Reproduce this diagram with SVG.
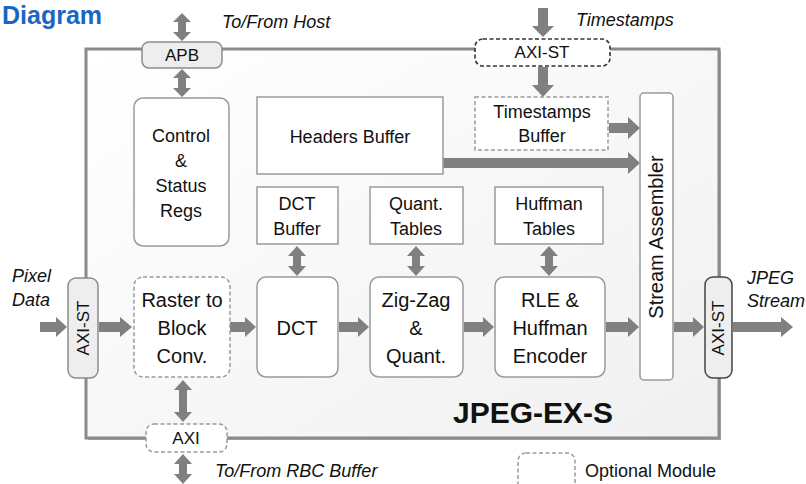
<svg xmlns="http://www.w3.org/2000/svg" width="806" height="484" viewBox="0 0 806 484">
<defs>
<linearGradient id="bg" x1="0" y1="0" x2="1" y2="1">
<stop offset="0" stop-color="#ffffff"/>
<stop offset="1" stop-color="#f0f0f0"/>
</linearGradient>
<style>
text{font-family:"Liberation Sans",Arial,sans-serif;fill:#111;text-anchor:middle}
.t17{font-size:17px}
.t18{font-size:18px}
.t20{font-size:20px}
.it{font-style:italic;text-anchor:start;font-size:18px}
.box{fill:#fff;stroke:#9a9a9a;stroke-width:1.5}
.opt{fill:#fff;stroke:#9a9a9a;stroke-width:1.5;stroke-dasharray:4 2.5}
.port{fill:#eeeeee;stroke:#8c8c8c;stroke-width:1.5}
.arr{fill:#808080}
</style>
</defs>
<rect width="806" height="484" fill="#fff"/>
<text x="2" y="24" style="font-size:25px;font-weight:bold;fill:#1a66c2;text-anchor:start">Diagram</text>

<g id="container">
<rect x="88" y="51" width="633" height="389" fill="#b0b0b0"/>
<rect x="86" y="49" width="633" height="389" fill="url(#bg)" stroke="#8a8a8a" stroke-width="3"/>
<text x="533" y="423" style="font-size:30px;font-weight:bold">JPEG-EX-S</text>
</g>

<g id="connectors">
<path class="arr" d="M182,13 L191,22 H186 V32 H191 L182,41 L173,32 H178 V22 H173 Z"/>
<path class="arr" d="M182,69 L191,78 H186 V88 H191 L182,97 L173,88 H178 V78 H173 Z"/>
<path class="arr" d="M538,8 V26 H532 L543,37 L554,26 H548 V8 Z"/>
<path class="arr" d="M538,67 V85 H532 L543,97 L554,85 H548 V67 Z"/>
<path class="arr" d="M609,123 H628 V117 L640,128 L628,139 V133 H609 Z"/>
<path class="arr" d="M443,158 H628 V152 L640,163 L628,174 V168 H443 Z"/>
<path class="arr" d="M297,246 L306,256 H301 V266 H306 L297,276 L288,266 H293 V256 H288 Z"/>
<path class="arr" d="M416,246 L425,256 H420 V266 H425 L416,276 L407,266 H412 V256 H407 Z"/>
<path class="arr" d="M549,246 L558,256 H553 V266 H558 L549,276 L540,266 H545 V256 H540 Z"/>
<path class="arr" d="M40,322 H56 V317 L67,327 L56,337 V332 H40 Z"/>
<path class="arr" d="M99,322 H120 V317 L132,327 L120,337 V332 H99 Z"/>
<path class="arr" d="M230,322 H245 V317 L256,327 L245,337 V332 H230 Z"/>
<path class="arr" d="M339,322 H358 V317 L369,327 L358,337 V332 H339 Z"/>
<path class="arr" d="M464,322 H483 V317 L494,327 L483,337 V332 H464 Z"/>
<path class="arr" d="M606,322 H628 V317 L639,327 L628,337 V332 H606 Z"/>
<path class="arr" d="M674,322 H693 V317 L704,327 L693,337 V332 H674 Z"/>
<path class="arr" d="M733,322 H781 V317 L793,327 L781,337 V332 H733 Z"/>
<path class="arr" d="M183,380 L192,390 H187 V412 H192 L183,422 L174,412 H179 V390 H174 Z"/>
<path class="arr" d="M183,454 L192,464 H187 V474 H192 L183,484 L174,474 H179 V464 H174 Z"/>
</g>

<g id="apb">
<rect class="port" x="142" y="42" width="80" height="26" rx="7"/>
<text class="t17" x="182" y="61">APB</text>
</g>
<text class="it" x="222" y="28">To/From Host</text>

<g id="axist-top">
<rect x="475" y="39" width="135" height="27" rx="8" fill="#fff" stroke="#333" stroke-width="1.6" stroke-dasharray="4 2.5"/>
<text class="t17" x="542" y="58">AXI-ST</text>
</g>
<text class="it" x="576" y="26">Timestamps</text>

<g id="ctrl">
<rect class="box" x="134" y="98" width="95" height="148" rx="9"/>
<text class="t18" x="181" y="142">Control</text>
<text class="t18" x="181" y="167">&amp;</text>
<text class="t18" x="181" y="192">Status</text>
<text class="t18" x="181" y="217">Regs</text>
</g>

<g id="headers">
<rect class="box" x="257" y="97" width="186" height="77"/>
<text class="t18" x="350" y="143">Headers Buffer</text>
</g>

<g id="tsbuf">
<rect class="opt" x="475" y="97" width="133" height="53"/>
<text class="t18" x="542" y="118">Timestamps</text>
<text class="t18" x="542" y="142">Buffer</text>
</g>

<g id="dctbuf">
<rect class="box" x="257" y="187" width="81" height="57"/>
<text class="t18" x="297" y="210">DCT</text>
<text class="t18" x="297" y="235">Buffer</text>
</g>

<g id="quant">
<rect class="box" x="370" y="187" width="93" height="57"/>
<text class="t18" x="416" y="210">Quant.</text>
<text class="t18" x="416" y="235">Tables</text>
</g>

<g id="huffT">
<rect class="box" x="495" y="187" width="108" height="57"/>
<text class="t18" x="549" y="210">Huffman</text>
<text class="t18" x="549" y="235">Tables</text>
</g>

<g id="stream">
<rect class="box" x="640" y="93" width="33" height="287" rx="4"/>
<text class="t20" transform="translate(663,237) rotate(-90)">Stream Assembler</text>
</g>

<g id="axist-left">
<rect class="port" x="68" y="278" width="30" height="100" rx="8"/>
<text class="t17" transform="translate(89,328) rotate(-90)">AXI-ST</text>
</g>
<text class="it" x="12" y="282">Pixel</text>
<text class="it" x="12" y="306">Data</text>

<g id="axist-right">
<rect x="705" y="277" width="27" height="101" rx="8" fill="#eeeeee" stroke="#444" stroke-width="1.5"/>
<text class="t17" transform="translate(724,328) rotate(-90)">AXI-ST</text>
</g>
<text class="it" x="747" y="284">JPEG</text>
<text class="it" x="747" y="307">Stream</text>

<g id="raster">
<rect class="opt" x="134" y="277" width="96" height="100" rx="9"/>
<text class="t20" x="182" y="307">Raster to</text>
<text class="t20" x="182" y="335">Block</text>
<text class="t20" x="182" y="363">Conv.</text>
</g>

<g id="dct">
<rect class="box" x="257" y="277" width="81" height="100" rx="9"/>
<text class="t20" x="297" y="335">DCT</text>
</g>

<g id="zigzag">
<rect class="box" x="370" y="277" width="93" height="100" rx="9"/>
<text class="t20" x="416" y="307">Zig-Zag</text>
<text class="t20" x="416" y="335">&amp;</text>
<text class="t20" x="416" y="363">Quant.</text>
</g>

<g id="rle">
<rect class="box" x="495" y="277" width="110" height="100" rx="9"/>
<text class="t20" x="550" y="307">RLE &amp;</text>
<text class="t20" x="550" y="335">Huffman</text>
<text class="t20" x="550" y="363">Encoder</text>
</g>

<g id="axi-bottom">
<rect class="opt" x="146" y="424" width="81" height="28" rx="8"/>
<text class="t17" x="186" y="444">AXI</text>
</g>
<text class="it" x="215" y="477">To/From RBC Buffer</text>

<g id="legend">
<rect class="opt" x="518" y="453" width="57" height="40" rx="8"/>
<text class="t18" x="585" y="477" style="text-anchor:start">Optional Module</text>
</g>
</svg>
